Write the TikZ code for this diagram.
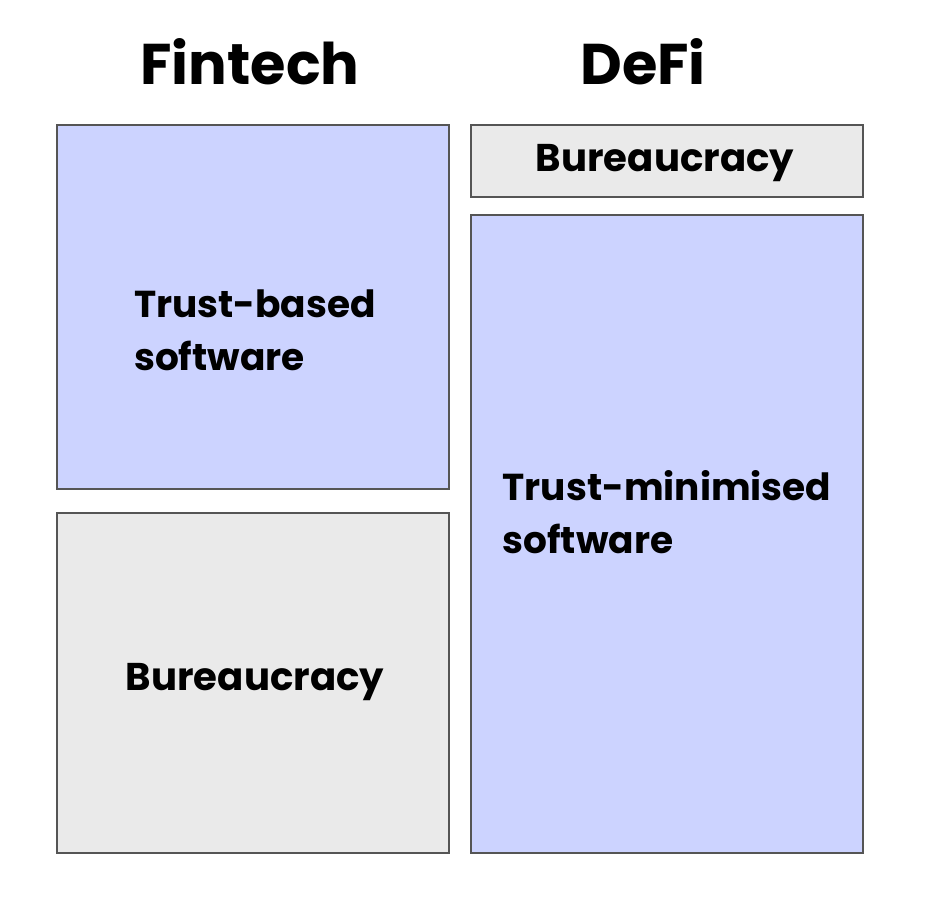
\documentclass[tikz,border=0pt]{standalone}
\usepackage{fontspec}
\setmainfont{Poppins}[BoldFont={* Bold}]
\definecolor{trustblue}{RGB}{204,211,255}
\definecolor{bureaugray}{RGB}{234,234,234}
\definecolor{edgegray}{RGB}{85,85,85}
\begin{document}
\begin{tikzpicture}[x=0.03cm,y=-0.03cm,
  bluebox/.style={draw=edgegray,line width=1.6pt,fill=trustblue},
  graybox/.style={draw=edgegray,line width=1.6pt,fill=bureaugray},
  title/.style={font=\bfseries\fontsize{49}{54}\selectfont},
  label/.style={font=\bfseries\fontsize{32}{45}\selectfont,align=left,inner sep=0pt}]
\useasboundingbox (0,0) rectangle (930,900);

% Column titles
\node[title] (fintech) at (250,62) {Fintech};
\node[title] (defi) at (643,62) {DeFi};

% Fintech column
\draw[bluebox] (57,125) rectangle (449,489);
\node[label] (trustbased) at (255,330) {Trust-based\\software};
\draw[graybox] (57,513) rectangle (449,853);
\node[label,font=\bfseries\fontsize{33}{45}\selectfont] (bureauleft) at (255,682) {Bureaucracy};

% DeFi column
\draw[graybox] (471,125) rectangle (863,197);
\node[label,font=\bfseries\fontsize{33}{45}\selectfont] (bureauright) at (665,163) {Bureaucracy};
\draw[bluebox] (471,215) rectangle (863,853);
\node[label] (trustmin) at (667,512) {Trust-minimised\\software};
\end{tikzpicture}
\end{document}
